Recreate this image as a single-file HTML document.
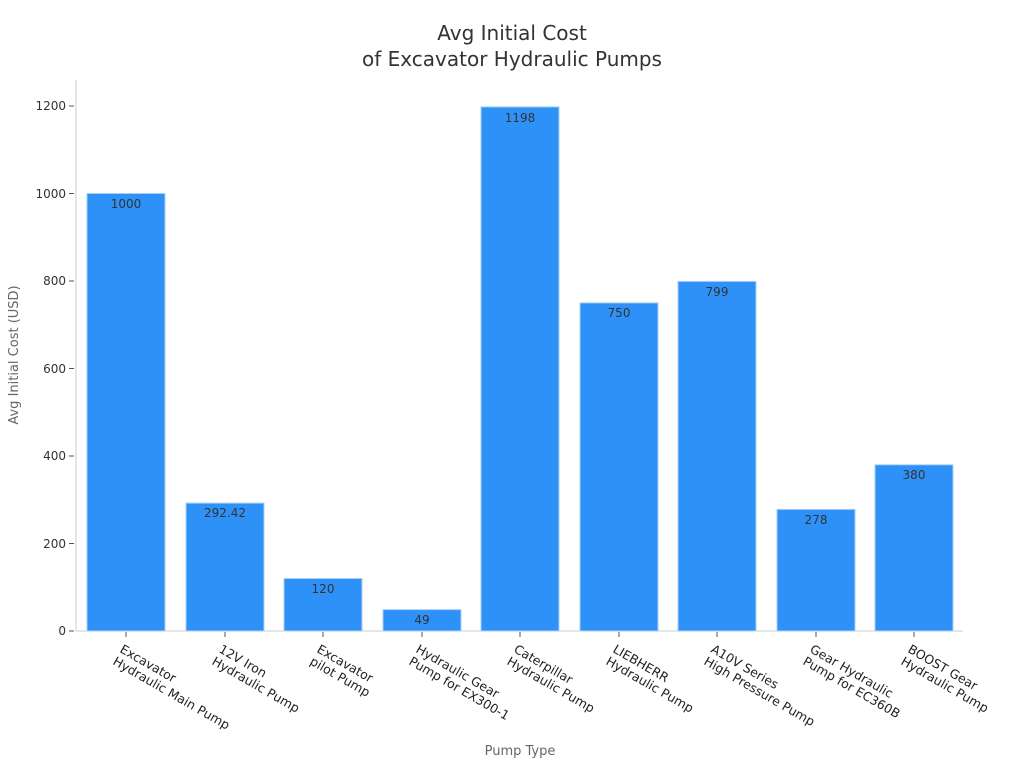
<!DOCTYPE html>
<html><head><meta charset="utf-8"><style>
body{margin:0;background:#fff;}
svg text{font-family:"DejaVu Sans","Liberation Sans",sans-serif;}
</style></head><body>
<svg width="1024" height="768" viewBox="0 0 1024 768" xmlns="http://www.w3.org/2000/svg">
<rect width="1024" height="768" fill="#fff"/>
<text x="512" y="40" text-anchor="middle" font-size="20" fill="#333">Avg Initial Cost</text>
<text x="512" y="66" text-anchor="middle" font-size="20" fill="#333">of Excavator Hydraulic Pumps</text>
<line x1="76" y1="80" x2="76" y2="631" stroke="#ccc" stroke-width="1"/>
<line x1="76" y1="631" x2="963" y2="631" stroke="#ccc" stroke-width="1"/>
<g font-size="12" fill="#333" text-anchor="end">
<text x="66" y="635">0</text><line x1="69" y1="631" x2="74" y2="631" stroke="#555"/>
<text x="66" y="548">200</text><line x1="69" y1="543.5" x2="74" y2="543.5" stroke="#555"/>
<text x="66" y="460">400</text><line x1="69" y1="456" x2="74" y2="456" stroke="#555"/>
<text x="66" y="373">600</text><line x1="69" y1="368.5" x2="74" y2="368.5" stroke="#555"/>
<text x="66" y="285">800</text><line x1="69" y1="281" x2="74" y2="281" stroke="#555"/>
<text x="66" y="198">1000</text><line x1="69" y1="193.5" x2="74" y2="193.5" stroke="#555"/>
<text x="66" y="110">1200</text><line x1="69" y1="106" x2="74" y2="106" stroke="#555"/>
</g>
<text transform="translate(18,355) rotate(-90)" text-anchor="middle" font-size="13" fill="#666">Avg Initial Cost (USD)</text>
<text x="520" y="755" text-anchor="middle" font-size="13" fill="#666">Pump Type</text>
<g fill="#2e91f8" stroke="#a9cff7" stroke-width="1">
<rect x="87" y="193.5" width="78" height="437.5"/>
<rect x="186" y="503.1" width="78" height="127.9"/>
<rect x="284" y="578.5" width="78" height="52.5"/>
<rect x="383" y="609.6" width="78" height="21.4"/>
<rect x="481" y="106.9" width="78" height="524.1"/>
<rect x="580" y="302.9" width="78" height="328.1"/>
<rect x="678" y="281.4" width="78" height="349.6"/>
<rect x="777" y="509.4" width="78" height="121.6"/>
<rect x="875" y="464.8" width="78" height="166.2"/>
</g>
<g font-size="12" fill="#333" text-anchor="middle">
<text x="126" y="208">1000</text>
<text x="225" y="517">292.42</text>
<text x="323" y="593">120</text>
<text x="422" y="624">49</text>
<text x="520" y="122">1198</text>
<text x="619" y="317">750</text>
<text x="717" y="296">799</text>
<text x="816" y="524">278</text>
<text x="914" y="479">380</text>
</g>
<g stroke="#555">
<line x1="126" y1="632" x2="126" y2="637"/><line x1="225" y1="632" x2="225" y2="637"/>
<line x1="323" y1="632" x2="323" y2="637"/><line x1="422" y1="632" x2="422" y2="637"/>
<line x1="520" y1="632" x2="520" y2="637"/><line x1="619" y1="632" x2="619" y2="637"/>
<line x1="717" y1="632" x2="717" y2="637"/><line x1="816" y1="632" x2="816" y2="637"/>
<line x1="914" y1="632" x2="914" y2="637"/>
</g>
<g font-size="12.5" fill="#222" text-anchor="start">
<g transform="translate(124,643) rotate(30)"><text x="0" y="10">Excavator</text><text x="0" y="24">Hydraulic Main Pump</text></g>
<g transform="translate(223,643) rotate(30)"><text x="0" y="10">12V Iron</text><text x="0" y="24">Hydraulic Pump</text></g>
<g transform="translate(321,643) rotate(30)"><text x="0" y="10">Excavator</text><text x="0" y="24">pilot Pump</text></g>
<g transform="translate(420,643) rotate(30)"><text x="0" y="10">Hydraulic Gear</text><text x="0" y="24">Pump for EX300-1</text></g>
<g transform="translate(518,643) rotate(30)"><text x="0" y="10">Caterpillar</text><text x="0" y="24">Hydraulic Pump</text></g>
<g transform="translate(617,643) rotate(30)"><text x="0" y="10">LIEBHERR</text><text x="0" y="24">Hydraulic Pump</text></g>
<g transform="translate(715,643) rotate(30)"><text x="0" y="10">A10V Series</text><text x="0" y="24">High Pressure Pump</text></g>
<g transform="translate(814,643) rotate(30)"><text x="0" y="10">Gear Hydraulic</text><text x="0" y="24">Pump for EC360B</text></g>
<g transform="translate(912,643) rotate(30)"><text x="0" y="10">BOOST Gear</text><text x="0" y="24">Hydraulic Pump</text></g>
</g>
</svg>
</body></html>
